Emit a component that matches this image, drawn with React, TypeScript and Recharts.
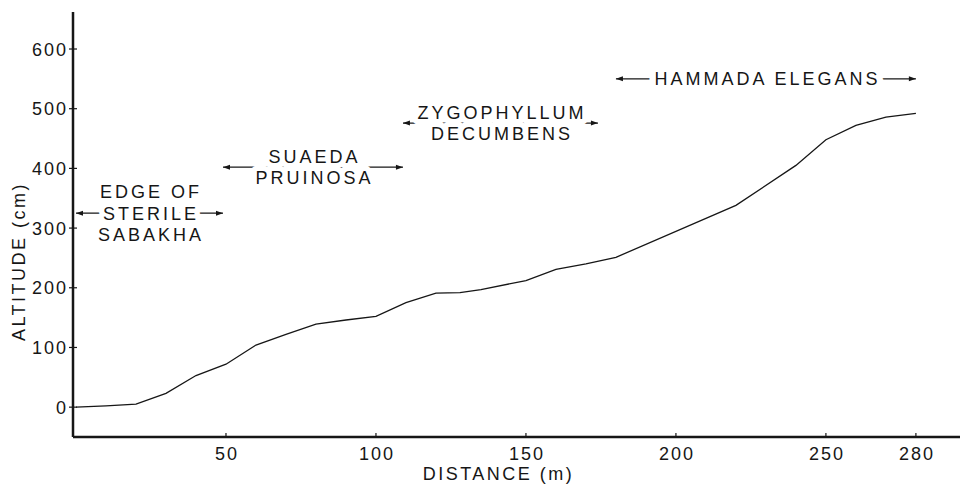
import { Line, LineChart, ReferenceLine, XAxis, YAxis } from 'recharts';

// transect profile
const distance = [0, 10, 20, 30, 40, 50, 60, 70, 80, 90, 100, 110, 120, 128, 135, 150, 160, 170, 180, 220, 240, 250, 260, 270, 280];
const altitude = [0, 2, 5, 23, 53, 72, 104, 122, 139, 146, 152, 175, 191, 192, 197, 212, 231, 240, 251, 338, 405, 448, 472, 486, 492];

const xTicks = [50, 100, 150, 200, 250, 280];
const yTicks = [0, 100, 200, 300, 400, 500, 600];

// vegetation zones along the transect
const zoneLabels = [['EDGE OF', 'STERILE', 'SABAKHA'], ['SUAEDA', 'PRUINOSA'], ['ZYGOPHYLLUM', 'DECUMBENS'], ['HAMMADA ELEGANS']];
const zoneFrom = [0, 49, 109, 180];
const zoneTo = [49, 109, 174, 280];
const zoneAltitude = [325, 402, 476, 550];

const data = distance.map((d, i) => ({ d, alt: altitude[i] }));

const ink = '#161616';
const font = '"Liberation Sans", Arial, sans-serif';

const textStyle = { fontFamily: font, fontSize: 18, letterSpacing: 2, fill: ink };

function zoneShape(lines: string[]) {
  return (p: any) => {
    const { x1, y1, x2 } = p;
    const mid = (x1 + x2) / 2;
    const gap = 21.5;
    const top = y1 - ((lines.length - 1) * gap) / 2;
    return (
      <g>
        <line x1={x1} y1={y1} x2={x2} y2={y1} stroke={ink} strokeWidth={1.2} />
        <polygon points={`${x1},${y1} ${x1 + 7},${y1 - 2.5} ${x1 + 7},${y1 + 2.5}`} fill={ink} />
        <polygon points={`${x2},${y1} ${x2 - 7},${y1 - 2.5} ${x2 - 7},${y1 + 2.5}`} fill={ink} />
        {/* white halo first so the arrow line breaks around the words (spaces get a glyph so they mask too) */}
        {lines.map((t, i) => (
          <text
            key={'h' + t}
            x={mid + 1.5}
            y={top + i * gap + 6.5}
            textAnchor="middle"
            style={{ ...textStyle, letterSpacing: 3, fill: '#fff' }}
            stroke="#fff"
            strokeWidth={11}
            strokeLinejoin="round"
          >
            {t.replace(/ /g, '-')}
          </text>
        ))}
        {lines.map((t, i) => (
          <text key={t} x={mid + 1.5} y={top + i * gap + 6.5} textAnchor="middle" style={{ ...textStyle, letterSpacing: 3 }}>
            {t}
          </text>
        ))}
      </g>
    );
  };
}

const XTick = (p: any) => (
  <g>
    <line x1={p.x} x2={p.x} y1={p.y - 6} y2={p.y - 10} stroke={ink} strokeWidth={1.2} />
    <text x={p.x + 1} y={p.y + 16.5} textAnchor="middle" style={textStyle}>
      {p.payload.value}
    </text>
  </g>
);

const YTick = (p: any) => (
  <g>
    <line x1={p.x + 3} x2={p.x + 11} y1={p.y} y2={p.y} stroke={ink} strokeWidth={1.2} />
    <text x={p.x + 2} y={p.y + 6.5} textAnchor="end" style={textStyle}>
      {p.payload.value}
    </text>
  </g>
);

export default function App() {
  return (
    <div style={{ position: 'absolute', left: 0, top: 0, background: '#fff' }}>
      <LineChart width={960} height={484} data={data} margin={{ top: 12, right: 0, bottom: 0, left: 0 }}>
        <XAxis
          type="number"
          dataKey="d"
          domain={[-1, 294.7]}
          ticks={xTicks}
          allowDataOverflow
          height={47}
          tickSize={4}
          tickMargin={2}
          tickLine={false}
          tick={<XTick />}
          axisLine={{ stroke: ink, strokeWidth: 2.5 }}
          label={({ viewBox }: any) => (
            <text
              x={viewBox.x + viewBox.width / 2 - 18}
              y={viewBox.y + 43}
              textAnchor="middle"
              style={{ ...textStyle, letterSpacing: 2.5 }}
            >
              DISTANCE (m)
            </text>
          )}
        />
        <YAxis
          type="number"
          domain={[-50, 662]}
          ticks={yTicks}
          allowDataOverflow
          width={73}
          tickSize={4}
          tickMargin={3}
          tickLine={false}
          tick={<YTick />}
          axisLine={{ stroke: ink, strokeWidth: 2.5 }}
          label={({ viewBox }: any) => {
            const cx = 19;
            const cy = viewBox.y + viewBox.height / 2 + 37;
            return (
              <text
                x={cx}
                y={cy}
                transform={`rotate(-90 ${cx} ${cy})`}
                textAnchor="middle"
                dominantBaseline="central"
                style={{ ...textStyle, letterSpacing: 2.5 }}
              >
                ALTITUDE (cm)
              </text>
            );
          }}
        />
        {zoneLabels.map((lines, i) => (
          <ReferenceLine
            key={lines[0]}
            segment={[
              { x: zoneFrom[i], y: zoneAltitude[i] },
              { x: zoneTo[i], y: zoneAltitude[i] },
            ]}
            shape={zoneShape(lines)}
          />
        ))}
        <Line
          type="linear"
          dataKey="alt"
          stroke={ink}
          strokeWidth={1.3}
          dot={false}
          activeDot={false}
          isAnimationActive={false}
        />
      </LineChart>
    </div>
  );
}
